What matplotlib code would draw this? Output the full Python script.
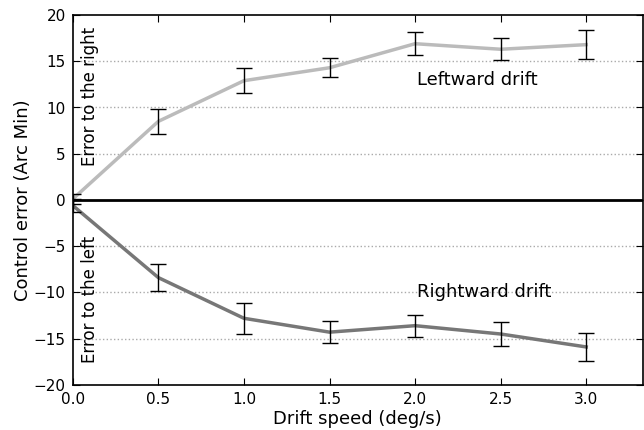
import matplotlib
matplotlib.use('Agg')
import matplotlib.pyplot as plt
import numpy as np

# data
speeds = [0.0, 0.5, 1.0, 1.5, 2.0, 2.5, 3.0]
leftward = [0.1, 8.5, 12.9, 14.3, 16.9, 16.3, 16.8]
leftward_err = [0.5, 1.35, 1.35, 1.05, 1.25, 1.2, 1.6]
rightward = [-0.6, -8.4, -12.8, -14.3, -13.6, -14.5, -15.9]
rightward_err = [0.7, 1.5, 1.65, 1.2, 1.2, 1.3, 1.55]
yticks = [-20, -15, -10, -5, 0, 5, 10, 15, 20]
xticks = [0.0, 0.5, 1.0, 1.5, 2.0, 2.5, 3.0]

fig = plt.figure(figsize=(6.44, 4.30), dpi=100)
ax = fig.add_axes([0.113, 0.105, 0.885, 0.86])

ax.plot(speeds, leftward, color='#bbbbbb', lw=2.5, zorder=3)
ax.errorbar(speeds, leftward, yerr=leftward_err, fmt='none', ecolor='black',
            elinewidth=1, capsize=6, capthick=1, zorder=4)
ax.plot(speeds, rightward, color='#777777', lw=2.5, zorder=3)
ax.errorbar(speeds, rightward, yerr=rightward_err, fmt='none', ecolor='black',
            elinewidth=1, capsize=6, capthick=1, zorder=4)

ax.axhline(0, color='black', lw=2, zorder=2)
for yt in yticks:
    if yt not in (0, -20, 20):
        ax.axhline(yt, color='#aaaaaa', lw=1, ls=':', zorder=1)

ax.text(0.1, 11.2, 'Error to the right', rotation=90, ha='center', va='center', fontsize=12)
ax.text(0.1, -10.8, 'Error to the left', rotation=90, ha='center', va='center', fontsize=12)
ax.text(2.01, 13, 'Leftward drift', ha='left', va='center', fontsize=13)
ax.text(2.01, -10, 'Rightward drift', ha='left', va='center', fontsize=13)

ax.set_xlim(0, 3.33)
ax.set_ylim(-20, 20)
ax.set_xticks(xticks)
ax.set_xticklabels(['%.1f' % v for v in xticks])
ax.set_yticks(yticks)
ax.tick_params(direction='in', top=True, right=True, length=5, labelsize=11, pad=5)
ax.set_xlabel('Drift speed (deg/s)', fontsize=13, labelpad=2)
ax.set_ylabel('Control error (Arc Min)', fontsize=13, labelpad=1)
for s in ax.spines.values():
    s.set_linewidth(1.2)

fig.savefig('out.png', dpi=100)
